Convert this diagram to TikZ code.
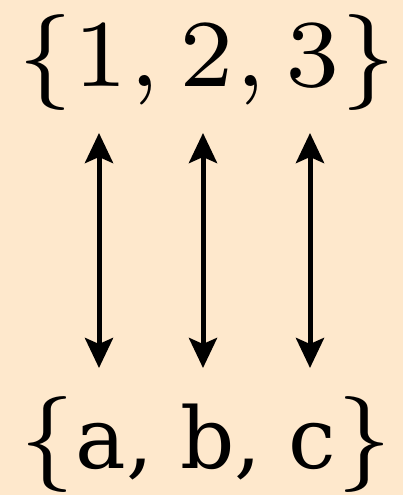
\documentclass[tikz,border=0pt]{standalone}
\usepackage{fontspec}
\usepackage{amsmath, amssymb}
\usetikzlibrary{arrows.meta}
\newfontfamily\letterfont{DejaVu Serif}
\definecolor{peach}{RGB}{254,232,204}

\begin{document}
\begin{tikzpicture}[x=1pt, y=1pt,
    bij/.style={{Stealth[length=30pt, width=28pt, inset=6pt]}-{Stealth[length=30pt, width=28pt, inset=6pt]}, line width=5pt},
    set/.style={anchor=base, inner sep=0pt, scale=13.7, font=\fontsize{7}{8}\selectfont}]
    \fill [peach] (0,0) rectangle (403,-495);
    \useasboundingbox (0,0) rectangle (403,-495);
    \node (N) at (207,-86) [set] {$\{1, 2, 3\}$};
    \node (L) at (206,-468) [set] {$\{${\letterfont\fontsize{6.2}{8}\selectfont a, b, c}$\}$};
    \coordinate (N1) at (99,-133);
    \coordinate (N2) at (203,-133);
    \coordinate (N3) at (310,-133);
    \coordinate (L1) at (99,-368);
    \coordinate (L2) at (203,-368);
    \coordinate (L3) at (310,-368);
    \draw [bij] (N1) to (L1);
    \draw [bij] (N2) to (L2);
    \draw [bij] (N3) to (L3);
\end{tikzpicture}
\end{document}
